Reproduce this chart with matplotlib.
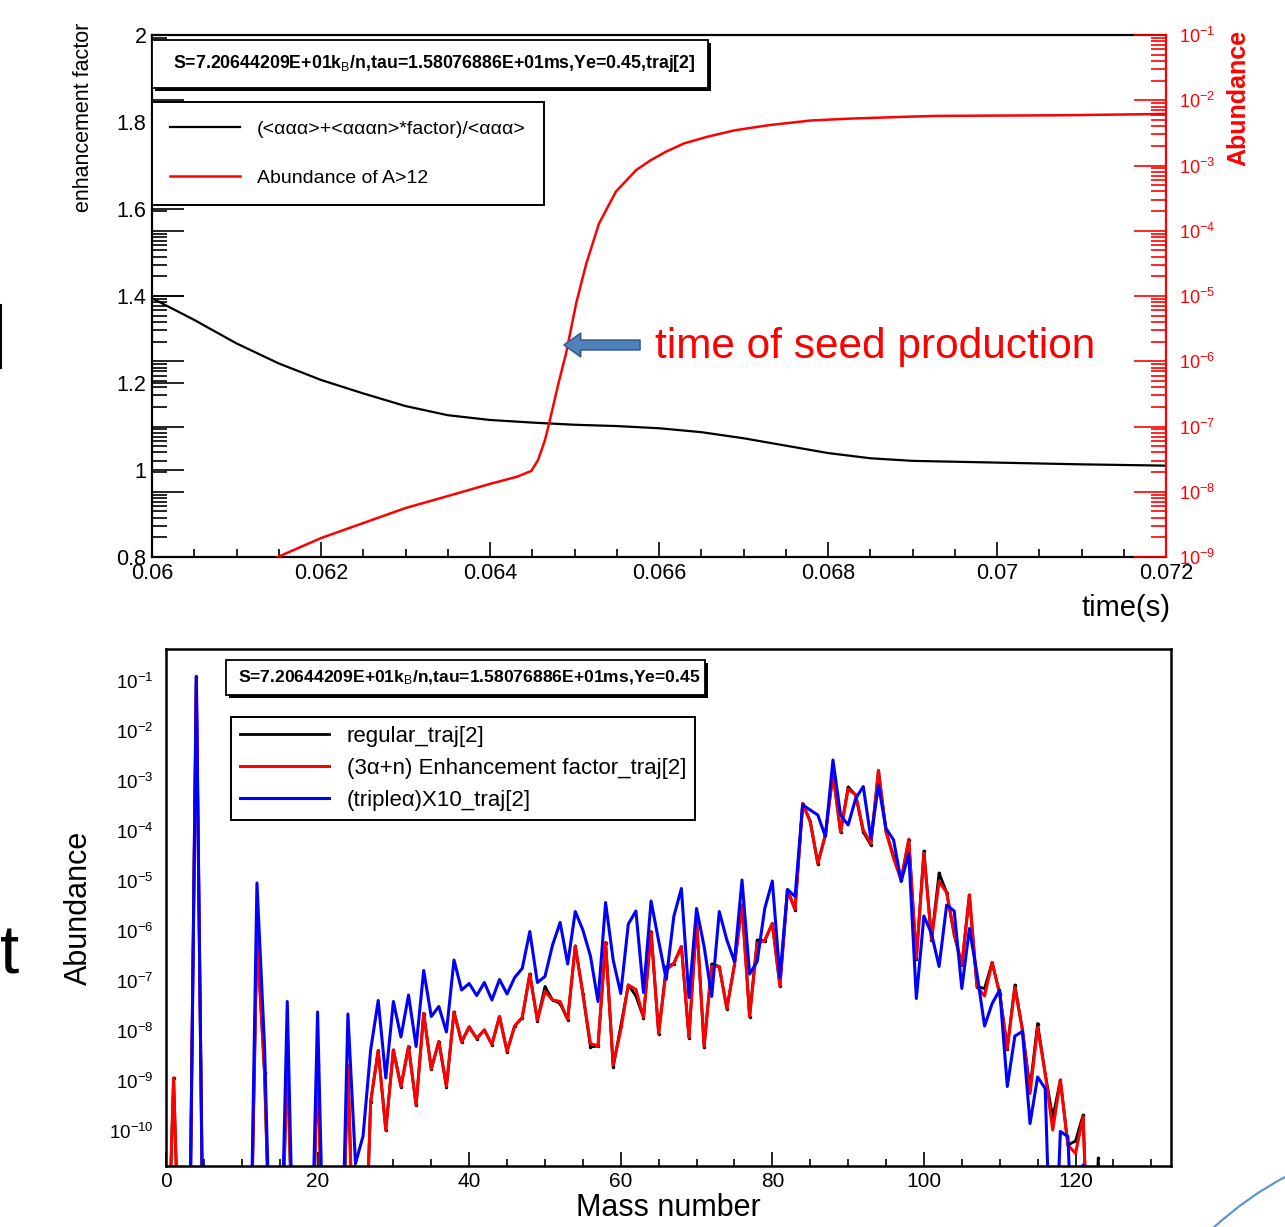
import numpy as np
import matplotlib
matplotlib.use("Agg")
import matplotlib.pyplot as plt
from matplotlib.patches import Rectangle, FancyArrowPatch, PathPatch
from matplotlib.path import Path
from matplotlib.lines import Line2D
from matplotlib.ticker import MultipleLocator, LogLocator, FuncFormatter, NullFormatter

plt.rcParams['font.family'] = ['Liberation Sans', 'DejaVu Sans']
plt.rcParams['mathtext.fontset'] = 'custom'
plt.rcParams['mathtext.rm'] = 'Liberation Sans'
plt.rcParams['mathtext.it'] = 'Liberation Sans:italic'
plt.rcParams['mathtext.bf'] = 'Liberation Sans:bold'

# ---- top panel data: enhancement factor and abundance of A>12 vs time
enh_time = [0.0600, 0.0605, 0.0610, 0.0615, 0.0620, 0.0625, 0.0630, 0.0635, 0.0640, 0.0645, 0.0650,
            0.0655, 0.0660, 0.0665, 0.0670, 0.0675, 0.0680, 0.0685, 0.0690, 0.0700, 0.0710, 0.0720]
enh_factor = [1.395, 1.345, 1.291, 1.245, 1.207, 1.176, 1.147, 1.126, 1.115, 1.109, 1.104,
              1.101, 1.096, 1.087, 1.073, 1.056, 1.039, 1.027, 1.021, 1.017, 1.013, 1.010]

abund_time = [0.06140, 0.06200, 0.06250, 0.06300, 0.06349, 0.06400, 0.06432, 0.06449, 0.06457, 0.06465,
              0.06470, 0.06481, 0.06490, 0.06502, 0.06514, 0.06529, 0.06549, 0.06573, 0.06590, 0.06608,
              0.06630, 0.06657, 0.06690, 0.06731, 0.06780, 0.06829, 0.06900, 0.06928, 0.07075, 0.07200]
abund_log = [-9.05, -8.71, -8.48, -8.25, -8.07, -7.88, -7.77, -7.68, -7.51, -7.21,
             -6.95, -6.34, -5.88, -5.11, -4.50, -3.89, -3.40, -3.07, -2.92, -2.79,
             -2.66, -2.56, -2.46, -2.38, -2.31, -2.28, -2.25, -2.24, -2.23, -2.21]

# ---- bottom panel data: log10(abundance) per mass number, None = zero
mass_number = list(range(0, 125))
regular_log = [
    None, -8.94, None, None, -0.91, None, None, None, None, None,
    None, None, -6.08, -8.83, None, None, -8.44, None, None, None,
    -8.66, None, None, None, -8.70, None, None, -9.42, -8.39, -9.98,
    -8.38, -9.11, -8.31, -9.48, -7.65, -8.76, -8.21, -9.11, -7.62, -8.22,
    -7.92, -8.15, -7.98, -8.27, -7.71, -8.41, -7.90, -7.73, -6.86, -7.79,
    -7.11, -7.38, -7.45, -7.77, -6.30, -7.25, -8.32, -8.30, -6.23, -8.72,
    -7.90, -7.08, -7.30, -7.73, -6.01, -8.05, -6.72, -6.65, -6.31, -8.13,
    -5.78, -8.31, -6.66, -6.71, -7.55, -6.68, -5.48, -7.71, -6.18, -6.19,
    -5.85, -7.10, -5.18, -5.57, -3.45, -3.81, -4.65, -4.08, -2.85, -4.02,
    -3.12, -3.28, -4.02, -4.28, -2.79, -4.01, -4.50, -4.98, -4.17, -6.55,
    -4.40, -6.17, -4.84, -5.23, -6.08, -6.68, -5.28, -7.11, -7.15, -6.63,
    -7.25, -8.35, -7.08, -7.98, -9.15, -7.85, -8.85, -9.73, -8.98, -10.28,
    -10.20, -9.68, None, -10.54, None]
enhanced_log = [
    None, -8.94, None, None, -0.91, None, None, None, None, None,
    None, None, -6.08, -8.83, None, None, -8.44, None, None, None,
    -8.66, None, None, None, -8.70, None, None, -9.42, -8.39, -9.98,
    -8.38, -9.11, -8.31, -9.48, -7.65, -8.76, -8.21, -9.11, -7.62, -8.22,
    -7.92, -8.15, -7.98, -8.27, -7.71, -8.41, -7.90, -7.73, -6.86, -7.79,
    -7.21, -7.38, -7.41, -7.77, -6.30, -7.25, -8.25, -8.30, -6.23, -8.68,
    -7.98, -7.08, -7.17, -7.73, -6.01, -8.05, -6.78, -6.65, -6.31, -8.13,
    -5.78, -8.31, -6.71, -6.71, -7.55, -6.68, -5.48, -7.71, -6.25, -6.19,
    -5.85, -7.10, -5.18, -5.57, -3.45, -3.81, -4.65, -4.08, -2.85, -4.02,
    -3.16, -3.28, -3.98, -4.25, -2.79, -4.01, -4.55, -4.98, -4.17, -6.55,
    -4.45, -6.17, -5.01, -5.23, -6.05, -6.68, -5.28, -7.11, -7.30, -6.63,
    -7.25, -8.35, -7.13, -7.98, -9.25, -7.93, -8.85, -9.98, -8.98, -10.28,
    -10.45, -9.71, None, None, None]
triple_log = [
    None, None, None, None, -0.91, None, None, None, None, None,
    None, None, -5.04, -8.30, None, None, -7.41, None, None, None,
    -7.62, None, None, None, -7.66, -10.65, -10.10, -8.38, -7.39, -8.94,
    -7.41, -8.12, -7.28, -8.31, -6.79, -7.71, -7.51, -8.02, -6.58, -7.18,
    -7.05, -7.29, -7.03, -7.38, -6.97, -7.26, -6.93, -6.75, -6.01, -7.03,
    -6.91, -6.28, -5.83, -6.66, -5.61, -5.98, -6.50, -7.41, -5.43, -6.58,
    -7.25, -5.86, -5.60, -7.23, -5.40, -6.20, -6.97, -5.71, -5.15, -7.33,
    -5.55, -6.31, -7.31, -5.61, -6.18, -6.61, -4.98, -6.86, -6.61, -5.55,
    -5.00, -6.93, -5.17, -5.31, -3.48, -3.58, -3.68, -4.11, -2.58, -3.68,
    -3.88, -3.35, -3.11, -4.15, -3.08, -3.95, -4.18, -5.01, -4.45, -7.35,
    -5.70, -6.05, -6.71, -5.48, -5.60, -7.15, -5.95, -6.85, -7.90, -7.45,
    -7.18, -9.11, -8.10, -8.01, -9.85, -8.92, -9.15, None, -10.01, -10.11,
    None, -10.68, None, None, None]

top_title = r"S=7.20644209E+01k$_\mathrm{B}$/n,tau=1.58076886E+01ms,Ye=0.45,traj[2]"
bottom_title = r"S=7.20644209E+01k$_\mathrm{B}$/n,tau=1.58076886E+01ms,Ye=0.45"

W, H = 1285, 1227


def fx(px):
    return px / W


def fy(py):
    return 1 - py / H


def to_abund(vals):
    # zero abundances are pushed far below the axis, like ROOT does
    return np.array([10.0 ** v if v is not None else 1e-14 for v in vals])


def root_box(x0, y0, x1, y1, text, fs):
    w, h = fx(x1) - fx(x0), (y1 - y0) / H
    sh = Rectangle((fx(x0) + 3 / W, fy(y1) - 3 / H), w, h, transform=fig.transFigure,
                   fc='black', ec='none', zorder=10)
    bx = Rectangle((fx(x0), fy(y1)), w, h, transform=fig.transFigure,
                   fc='white', ec='black', lw=1.3, zorder=11)
    fig.add_artist(sh)
    fig.add_artist(bx)
    fig.text((fx(x0) + fx(x1)) / 2 + 4 / W, (fy(y0) + fy(y1)) / 2, text, fontsize=fs,
             weight='bold', ha='center', va='center', zorder=12)


fig = plt.figure(figsize=(W / 100, H / 100), dpi=100)

# ================= top panel =================
ax = fig.add_axes([fx(152), fy(557), (1166 - 152) / W, (557 - 35) / H])
l1, = ax.plot(enh_time, enh_factor, color='black', lw=1.6)
ax.set_xlim(0.06, 0.072)
ax.set_ylim(0.8, 2.0)
ax.xaxis.set_major_locator(MultipleLocator(0.002))
ax.xaxis.set_minor_locator(MultipleLocator(0.0005))
ax.xaxis.set_major_formatter(FuncFormatter(lambda v, p: '%g' % round(v, 4)))
ax.yaxis.set_major_locator(MultipleLocator(0.2))
ax.yaxis.set_major_formatter(FuncFormatter(lambda v, p: '%g' % round(v, 2)))
ax.tick_params(axis='x', which='major', direction='in', length=11, width=1.2, labelsize=15.5, pad=4, top=False)
ax.tick_params(axis='x', which='minor', direction='in', length=5.5, width=1.2, top=False)
ax.tick_params(axis='y', which='major', direction='in', length=23, width=1.2, labelsize=15.5, pad=4, right=False)
for s in ['left', 'top', 'bottom']:
    ax.spines[s].set_linewidth(1.6)
ax.spines['right'].set_visible(False)

ax2 = ax.twinx()
l2, = ax2.plot(abund_time, 10.0 ** np.array(abund_log), color='red', lw=1.8)
ax2.set_yscale('log')
ax2.set_ylim(1e-9, 1e-1)
ax2.yaxis.set_major_locator(LogLocator(base=10, numticks=20))
ax2.yaxis.set_minor_locator(LogLocator(base=10, subs=np.arange(2, 10), numticks=100))
ax2.yaxis.set_minor_formatter(NullFormatter())
ax2.tick_params(axis='y', which='major', direction='in', length=23, width=1.2, colors='red',
                labelsize=13, pad=9)
ax2.tick_params(axis='y', which='minor', direction='in', length=11, width=1.2, colors='red')
for s in ['left', 'top', 'bottom']:
    ax2.spines[s].set_visible(False)
ax2.spines['right'].set_color('red')
ax2.spines['right'].set_linewidth(1.6)

# black copy of the log ticks on the left side (ROOT overlay artefact)
ax3 = ax.twinx()
ax3.set_yscale('log')
ax3.set_ylim(1e-9, 1e-1)
ax3.yaxis.tick_left()
ax3.yaxis.set_major_locator(LogLocator(base=10, numticks=20))
ax3.yaxis.set_minor_locator(LogLocator(base=10, subs=np.arange(2, 10), numticks=100))
ax3.tick_params(axis='y', which='major', direction='in', length=23, width=1.2, labelleft=False, labelright=False)
ax3.tick_params(axis='y', which='minor', direction='in', length=11, width=1.2, labelleft=False, labelright=False)
for s in ax3.spines.values():
    s.set_visible(False)

leg = ax3.legend([l1, l2], ['(<ααα>+<αααn>*factor)/<ααα>', 'Abundance of A>12'],
                 loc='upper left', bbox_to_anchor=(fx(152), fy(102)), bbox_transform=fig.transFigure,
                 borderaxespad=0, fontsize=14, handlelength=3.6, handletextpad=0.85,
                 labelspacing=1.6, borderpad=0.95, fancybox=False, framealpha=1, edgecolor='black')
leg.get_frame().set_linewidth(1.4)

root_box(152, 40, 708, 88, top_title, 12.8)

fig.text(fx(83), fy(117), 'enhancement factor', rotation=90, ha='center', va='center', fontsize=15.5)
fig.text(fx(1238), fy(98), 'Abundance', rotation=90, ha='center', va='center', fontsize=18,
         weight='bold', color='red')
fig.text(fx(1170), fy(608), 'time(s)', ha='right', va='center', fontsize=21)

arrow = FancyArrowPatch(posA=(fx(640), fy(345)), posB=(fx(564), fy(345)), transform=fig.transFigure,
                        arrowstyle='simple,head_length=12,head_width=17,tail_width=7', mutation_scale=1,
                        fc='#4f81bd', ec='#385d8a', lw=1.2, zorder=20, shrinkA=0, shrinkB=0)
fig.add_artist(arrow)
fig.text(fx(655), fy(347), 'time of seed production', color='red', fontsize=30.5, ha='left', va='center')

# ================= bottom panel =================
axb = fig.add_axes([fx(166), fy(1166), (1171 - 166) / W, (1166 - 649) / H])
b1, = axb.plot(mass_number, to_abund(regular_log), color='black', lw=2.0, marker='.', ms=3)
b2, = axb.plot(mass_number, to_abund(enhanced_log), color='red', lw=2.2)
b3, = axb.plot(mass_number, to_abund(triple_log), color='blue', lw=2.2)
axb.set_yscale('log')
axb.set_xlim(0, 132.6)
axb.set_ylim(10 ** -10.7, 10 ** -0.36)
axb.xaxis.set_major_locator(MultipleLocator(20))
axb.xaxis.set_minor_locator(MultipleLocator(5))
axb.yaxis.set_major_locator(LogLocator(base=10, numticks=20))
axb.yaxis.set_minor_locator(LogLocator(base=10, subs=np.arange(2, 10), numticks=100))
axb.yaxis.set_minor_formatter(NullFormatter())
axb.tick_params(axis='x', which='major', direction='in', length=10, width=1.2, labelsize=15, pad=4)
axb.tick_params(axis='x', which='minor', direction='in', length=5, width=1.2)
axb.tick_params(axis='y', which='both', length=0, labelsize=13.5, pad=9)
for s in axb.spines.values():
    s.set_linewidth(1.8)
axb.set_xlabel('Mass number', fontsize=22, labelpad=2)
axb.set_ylabel('Abundance', fontsize=22, labelpad=11)

legb = axb.legend([b1, b2, b3], ['regular_traj[2]', '(3α+n) Enhancement factor_traj[2]', '(tripleα)X10_traj[2]'],
                  loc='upper left', bbox_to_anchor=(fx(231), fy(717)), bbox_transform=fig.transFigure,
                  borderaxespad=0, fontsize=16, handlelength=4.0, handletextpad=0.8,
                  labelspacing=0.5, borderpad=0.4, fancybox=False, framealpha=1, edgecolor='black')
legb.get_frame().set_linewidth(1.4)
for h in legb.legend_handles:
    h.set_marker('')

root_box(226, 660, 705, 695, bottom_title, 12.6)

# slide remnants around the charts
fig.text(fx(0), fy(955), 't', fontsize=50, ha='left', va='center')
fig.add_artist(Line2D([fx(1), fx(1)], [fy(305), fy(368)], transform=fig.transFigure, color='black', lw=1.5))
arc = Path([(fx(1212), fy(1229)), (fx(1248), fy(1196)), (fx(1287), fy(1176))],
           [Path.MOVETO, Path.CURVE3, Path.CURVE3])
fig.add_artist(PathPatch(arc, transform=fig.transFigure, fc='none', ec='#5b8fd0', lw=1.5))

fig.savefig('out.png', dpi=100)
